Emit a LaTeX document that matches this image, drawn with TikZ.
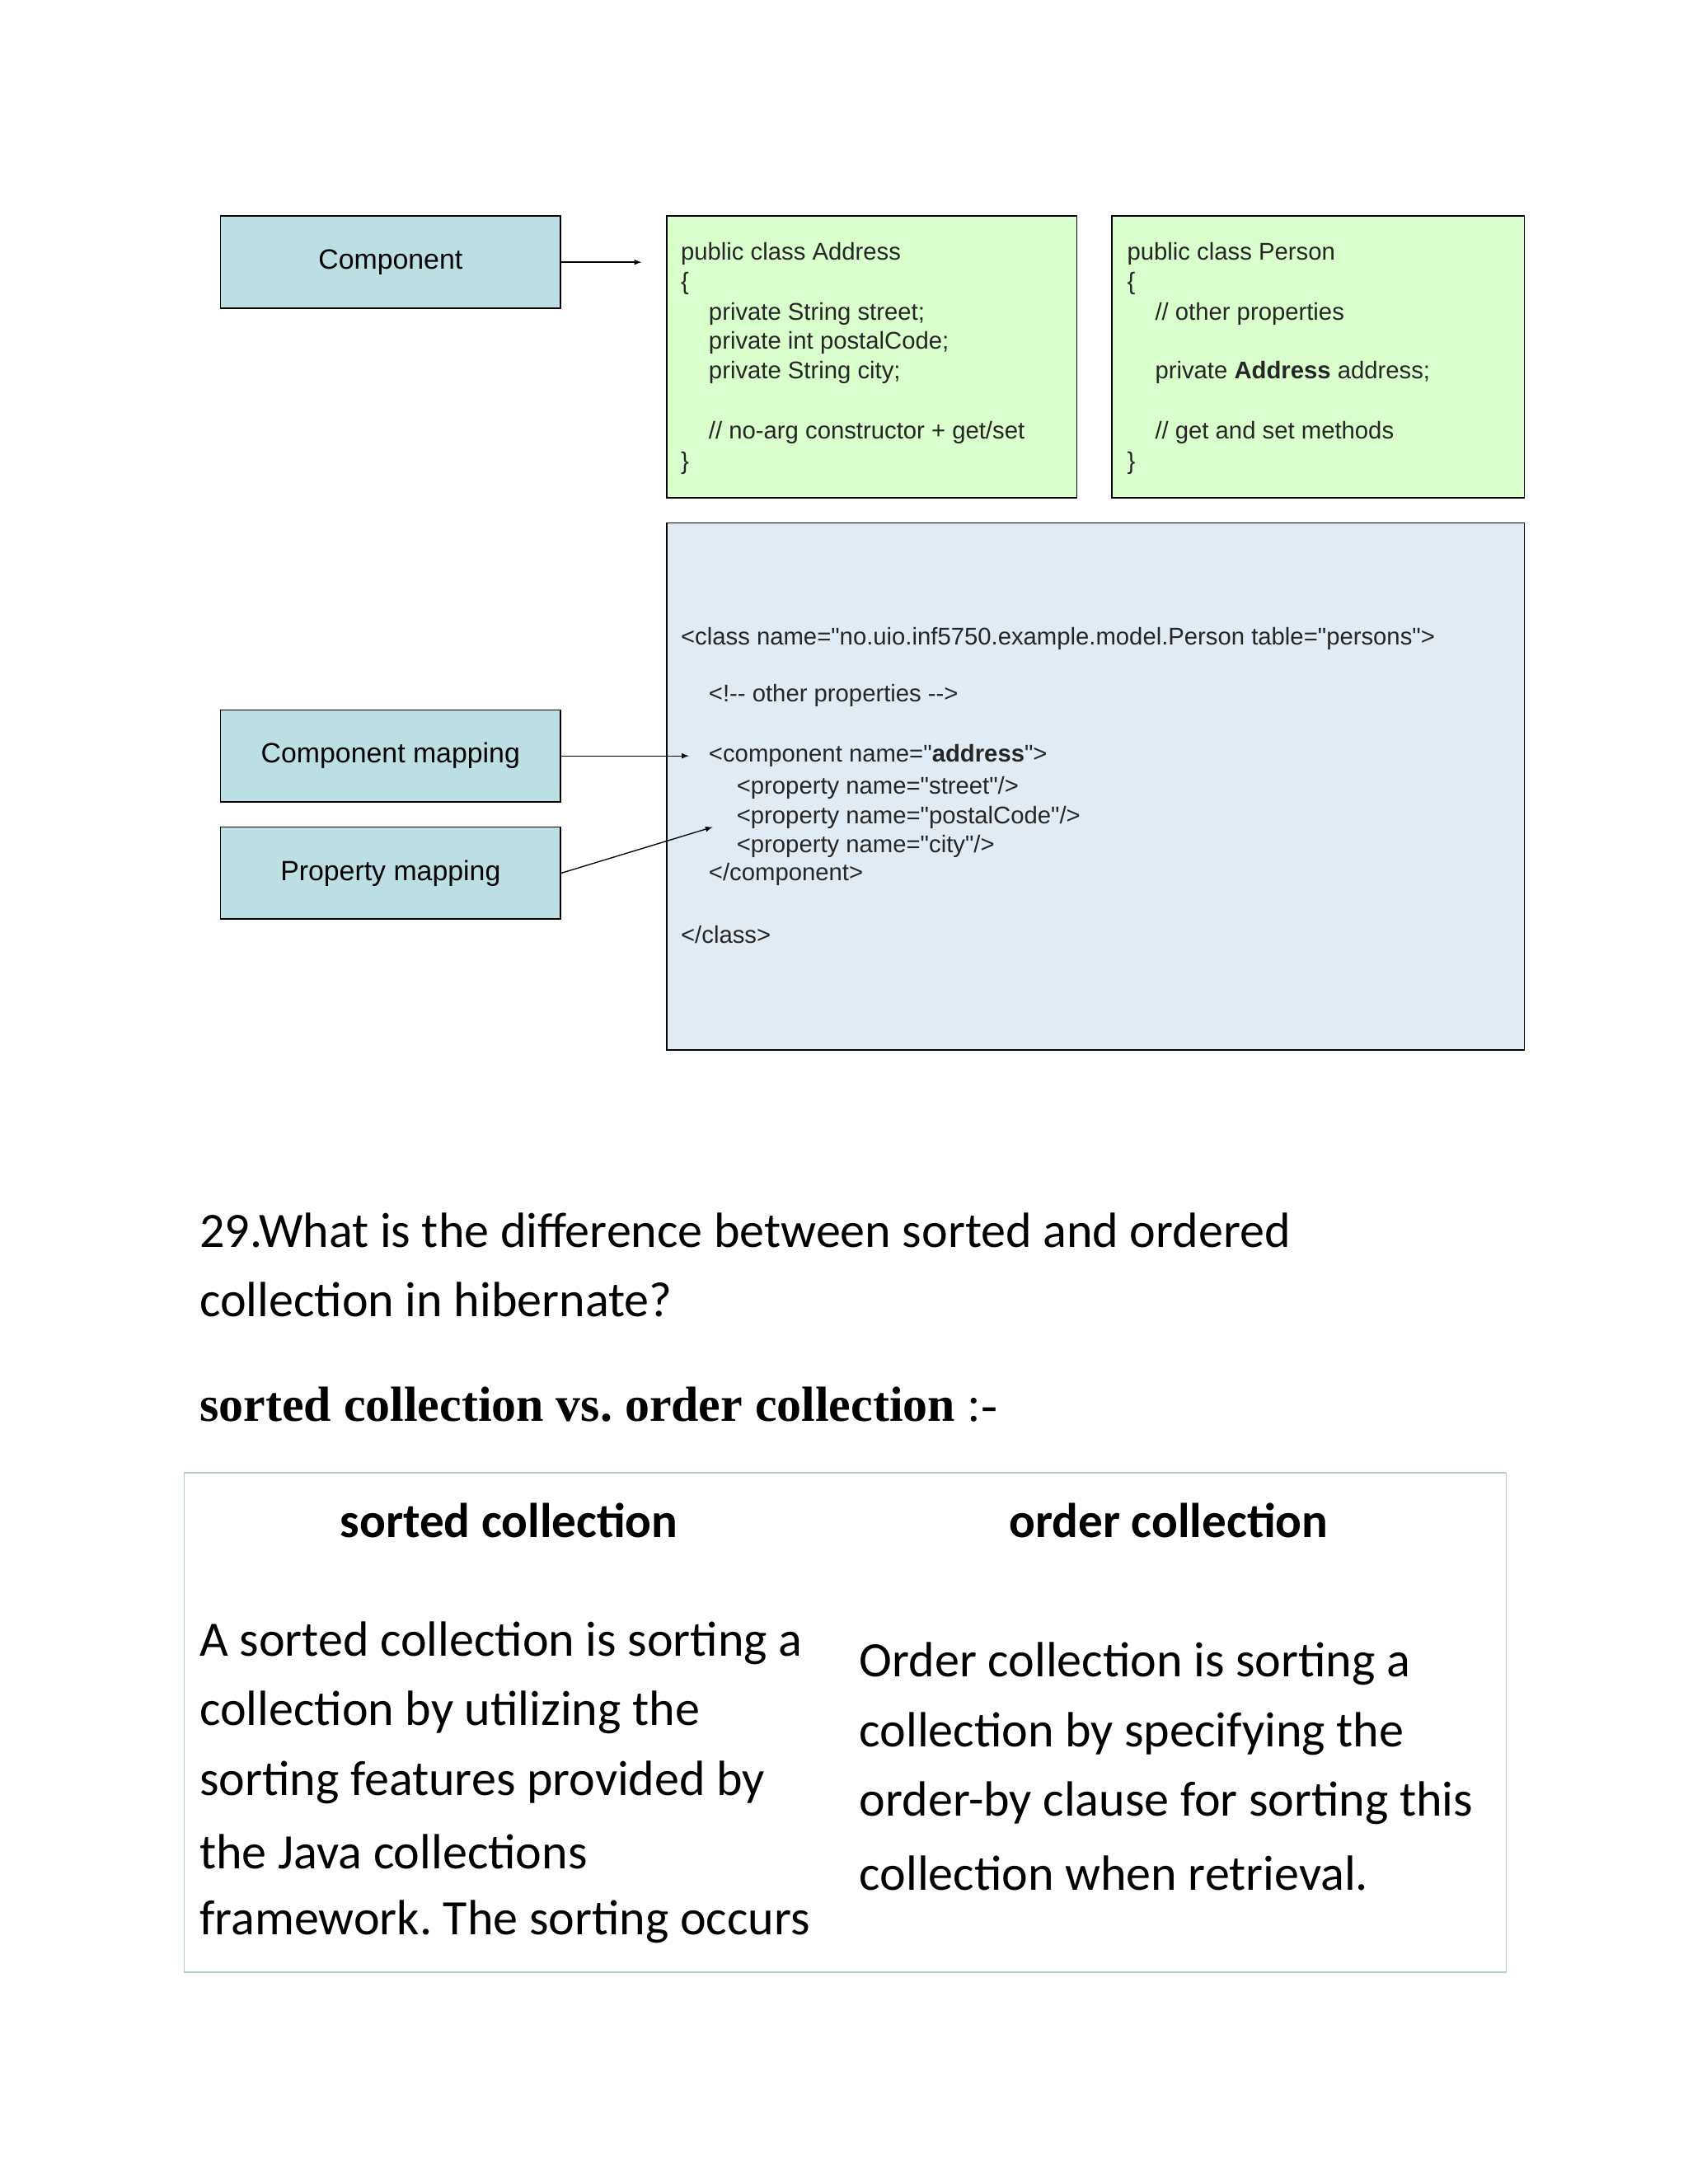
\documentclass[tikz,border=0pt]{standalone}
\usepackage{fontspec}
\setmainfont{Liberation Sans}
\newfontfamily\codefnt{Liberation Sans}
\newfontfamily\calfnt{Carlito}
\newfontfamily\tmsfnt{Liberation Serif}
\frenchspacing
\begin{document}
\begin{tikzpicture}[x=1pt,y=-1pt,
 lbl/.style={draw=black,fill=cblue,line width=1pt,font=\fontsize{20}{23}\selectfont,inner sep=0},
 code/.style={anchor=west,font=\codefnt\fontsize{17.3}{19}\selectfont,inner sep=0,text=black!85},
 para/.style={anchor=west,font=\calfnt\fontsize{35.5}{40}\selectfont,inner sep=0},
 arr/.style={-latex,line width=0.8pt}]
\definecolor{cblue}{HTML}{BCDFE4}
\definecolor{cgreen}{HTML}{D8FFCC}
\definecolor{cmap}{HTML}{E1EBF3}
\useasboundingbox (0,0) rectangle (1210,1566);
\node[lbl,minimum width=244,minimum height=66] (comp) at (280,188) {Component};
\node[lbl,minimum width=244,minimum height=66] (cmap) at (280,542) {Component mapping};
\node[lbl,minimum width=244,minimum height=66] (pmap) at (280,626) {Property mapping};
\draw[fill=cgreen,line width=1pt] (478,155) rectangle (772,357);
\draw[fill=cgreen,line width=1pt] (797,155) rectangle (1093,357);
\draw[fill=cmap,line width=1pt] (478,375) rectangle (1093,753);
\coordinate (a1) at (460,188);
\coordinate (a2) at (494,542);
\coordinate (a3) at (511,593);
\draw[arr] (comp.east) -- (a1);
\draw[arr] (cmap.east) -- (a2);
\draw[arr] (pmap.east) -- (a3);
\node[code] (t1) at (488,182) {public class Address};
\node[code] (t2) at (488,203) {\{};
\node[code] (t3) at (508,225) {private String street;};
\node[code] (t4) at (508,246) {private int postalCode;};
\node[code] (t5) at (508,267) {private String city;};
\node[code] (t6) at (508,310) {// no-arg constructor + get/set};
\node[code] (t7) at (488,332) {\}};
\node[code] (p1) at (808,182) {public class Person};
\node[code] (p2) at (808,203) {\{};
\node[code] (p3) at (828,225) {// other properties};
\node[code] (p4) at (828,267) {private \textbf{Address} address;};
\node[code] (p5) at (828,310) {// get and set methods};
\node[code] (p6) at (808,332) {\}};
\node[code] (m1) at (488,458) {<class name="no.uio.inf5750.example.model.Person table="persons">};
\node[code] (m2) at (508,499) {<!-- other properties -->};
\node[code] (m3) at (508,542) {<component name="\textbf{address}">};
\node[code] (m4) at (528,565) {<property name="street"/>};
\node[code] (m5) at (528,586) {<property name="postalCode"/>};
\node[code] (m6) at (528,607) {<property name="city"/>};
\node[code] (m7) at (508,627) {</component>};
\node[code] (m8) at (488,670) {</class>};
\node[para] (q1) at (143,882) {29.What is the difference between sorted and ordered};
\node[para] (q2) at (143,932) {collection in hibernate?};
\node[anchor=west,inner sep=0,font=\tmsfnt\fontsize{35.4}{40}\selectfont] (h) at (143,1007) {\textbf{sorted collection vs. order collection} :-};
\draw[draw=cblue!80!gray,line width=1pt] (132,1056) rectangle (1080,1414);
\node[inner sep=0,font=\calfnt\bfseries\fontsize{35}{40}\selectfont] (h1) at (365,1090) {sorted collection};
\node[inner sep=0,font=\calfnt\bfseries\fontsize{35}{40}\selectfont] (h2) at (838,1090) {order collection};
\node[para] (l1) at (143,1178) {A sorted collection is sorting a};
\node[para] (l2) at (143,1228) {collection by utilizing the};
\node[para] (l3) at (143,1278) {sorting features provided by};
\node[para] (l4) at (143,1328) {the Java collections};
\node[para] (l5) at (143,1378) {framework. The sorting occurs};
\node[para] (r1) at (616,1193) {Order collection is sorting a};
\node[para] (r2) at (616,1243) {collection by specifying the};
\node[para] (r3) at (616,1293) {order-by clause for sorting this};
\node[para] (r4) at (616,1343) {collection when retrieval.};
\end{tikzpicture}
\end{document}
